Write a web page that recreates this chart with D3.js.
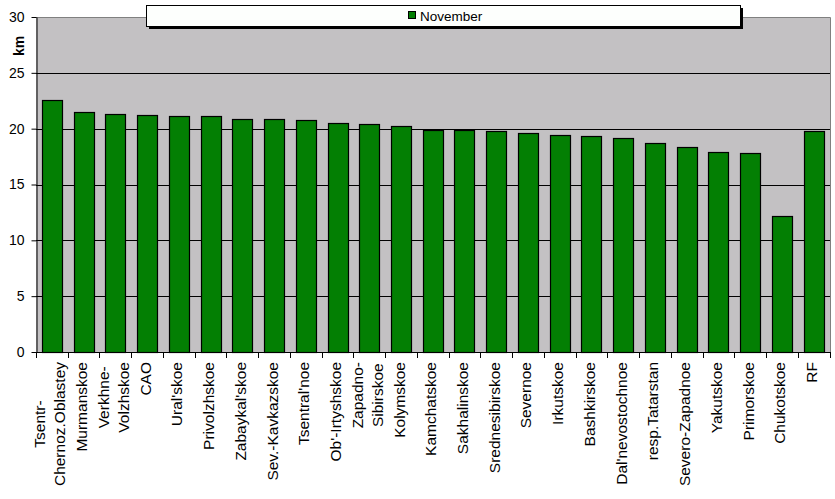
<!DOCTYPE html>
<html>
<head>
<meta charset="utf-8">
<script src="https://cdn.jsdelivr.net/npm/d3@7"></script>
<style>
  html, body { margin: 0; padding: 0; background: #ffffff; }
  svg { display: block; font-family: Arial, "Liberation Sans", sans-serif; }
</style>
</head>
<body>
<svg id="chart" width="835" height="499"></svg>
<script>
const categories = ["Tsentr-\nChernoz.Oblastey","Murmanskoe","Verkhne-\nVolzhskoe","CAO","Ural'skoe","Privolzhskoe","Zabaykal'skoe","Sev.-Kavkazskoe","Tsentral'noe","Ob'-Irtyshskoe","Zapadno-\nSibirskoe","Kolymskoe","Kamchatskoe","Sakhalinskoe","Srednesibirskoe","Severnoe","Irkutskoe","Bashkirskoe","Dal'nevostochnoe","resp.Tatarstan","Severo-Zapadnoe","Yakutskoe","Primorskoe","Chukotskoe","RF"];
const november = [22.55,21.45,21.35,21.2,21.1,21.1,20.85,20.85,20.75,20.5,20.4,20.2,19.85,19.85,19.75,19.6,19.4,19.3,19.15,18.7,18.35,17.9,17.8,12.2,19.75];
const yTicks = [0,5,10,15,20,25,30];
const seriesName = "November";
const yLabel = "km";

const svg = d3.select("#chart");
const L = 36, R = 830, T = 17, B = 352;

const x = d3.scaleBand().domain(categories).range([L, R - 0.5]).paddingInner(0.37).paddingOuter(0.185);
const y = d3.scaleLinear().domain([0, 30]).range([B, T]);

// plot background
svg.append("rect").attr("x", L).attr("y", T).attr("width", R - L).attr("height", B - T)
  .attr("fill", "#c3c1c3");
// gray border top & right
svg.append("path").attr("d", `M${L},${T + 0.5}H${R + 0.5}V${B}`)
  .attr("fill", "none").attr("stroke", "#808080").attr("stroke-width", 1);

// gridlines
svg.append("g").selectAll("line").data(yTicks.filter(t => t > 0 && t < 30)).join("line")
  .attr("x1", L).attr("x2", R)
  .attr("y1", d => Math.round(y(d)) + 0.5).attr("y2", d => Math.round(y(d)) + 0.5)
  .attr("stroke", "#000").attr("stroke-width", 1);

// bars
svg.append("g").selectAll("rect").data(november).join("rect")
  .attr("x", (d, i) => Math.round(x(categories[i])) + 0.5)
  .attr("y", d => Math.round(y(d)) + 0.5)
  .attr("width", Math.round(x.bandwidth()))
  .attr("height", d => B - Math.round(y(d)))
  .attr("fill", "#037f03").attr("stroke", "#000").attr("stroke-width", 1.2);

// y axis
const yAxis = d3.axisLeft(y).tickValues(yTicks).tickSize(5).tickPadding(7).tickSizeOuter(0);
const gy = svg.append("g").attr("transform", `translate(${L + 0.5},0)`).call(yAxis);
gy.select(".domain").attr("stroke", "#000");
gy.selectAll(".tick line").attr("stroke", "#000");
gy.selectAll(".tick text").attr("font-size", "14px").attr("fill", "#000")
  .attr("font-family", "Arial, 'Liberation Sans', sans-serif");

// x axis line and ticks at band boundaries
svg.append("line").attr("x1", L).attr("x2", R).attr("y1", B + 0.5).attr("y2", B + 0.5).attr("stroke", "#000");
const step = x.step();
const bounds = d3.range(categories.length + 1).map(i => x(categories[0]) - x.paddingOuter() * step + i * step);
svg.append("g").selectAll("line").data(bounds).join("line")
  .attr("x1", d => Math.round(d) + 0.5).attr("x2", d => Math.round(d) + 0.5)
  .attr("y1", B).attr("y2", B + 6).attr("stroke", "#000");

// x labels
const lab = svg.append("g").attr("font-size", "15.5px").attr("fill", "#000");
categories.forEach((c, i) => {
  const cx = x(c) + x.bandwidth() / 2;
  const g = lab.append("g").attr("transform", `translate(${cx},362) rotate(-90)`);
  const lines = c.split("\n");
  if (lines.length === 1) {
    g.append("text").attr("x", 0).attr("y", 3.5).attr("text-anchor", "end").text(c);
  } else {
    const texts = lines.map((ln, k) => g.append("text").attr("y", k === 0 ? -6.5 : 13.5)
      .attr("text-anchor", "middle").text(ln));
    const maxLen = d3.max(texts, t => t.node().getComputedTextLength());
    texts.forEach(t => t.attr("x", -maxLen / 2));
  }
});

// y label
svg.append("text").attr("transform", `translate(24,46) rotate(-90)`)
  .attr("text-anchor", "middle").attr("font-size", "14px").attr("font-weight", "bold")
  .attr("fill", "#000").text(yLabel);

// legend
const lg = svg.append("g");
lg.append("rect").attr("x", 149).attr("y", 8).attr("width", 594).attr("height", 21).attr("fill", "#000");
lg.append("rect").attr("x", 146.5).attr("y", 5.5).attr("width", 594).attr("height", 21)
  .attr("fill", "#fdfffd").attr("stroke", "#000").attr("stroke-width", 1);
lg.append("rect").attr("x", 408.5).attr("y", 11.5).attr("width", 7).attr("height", 7)
  .attr("fill", "#037f03").attr("stroke", "#000");
lg.append("text").attr("x", 420).attr("y", 20.5).attr("font-size", "13.5px").attr("fill", "#000")
  .text(seriesName);
</script>
</body>
</html>
